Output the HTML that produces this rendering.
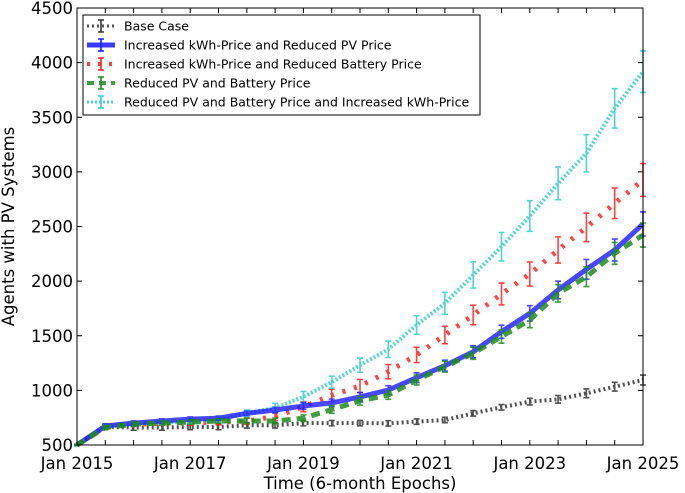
<!DOCTYPE html>
<html><head><meta charset="utf-8"><style>
body{margin:0;background:#fff;}
svg{display:block;font-family:"DejaVu Sans","Liberation Sans",sans-serif;}
</style></head><body>
<svg id="chart" width="685" height="493" viewBox="0 0 685 493"></svg>
<script>
const epochs = [0,1,2,3,4,5,6,7,8,9,10,11,12,13,14,15,16,17,18,19,20];
const xTickLabels = ["Jan 2015","Jan 2017","Jan 2019","Jan 2021","Jan 2023","Jan 2025"];
const xTickEpochs = [0,4,8,12,16,20];
const yTicks = [500,1000,1500,2000,2500,3000,3500,4000,4500];
const baseCase = [500,665,660,660,665,665,680,680,700,700,700,698,714,729,790,845,897,918,973,1034,1095];
const kwhPv = [500,674,700,720,737,745,790,820,857,885,940,1003,1116,1226,1354,1537,1705,1919,2108,2285,2523];
const kwhBattery = [500,670,690,700,705,710,720,760,850,955,1040,1171,1324,1507,1690,1882,2065,2285,2492,2712,2926];
const pvBattery = [500,660,690,700,710,720,720,720,745,825,905,958,1095,1217,1339,1492,1644,1888,2040,2254,2422];
const pvBatteryKwh = [500,670,695,705,715,730,790,840,940,1075,1230,1376,1598,1797,2056,2315,2596,2895,3170,3581,3917];
const errBase = [5,25,25,25,25,25,25,25,25,25,25,25,25,25,25,25,30,35,40,40,45];
const errKwhPv = [5,20,20,20,20,20,20,25,30,35,40,40,45,50,55,60,70,80,90,100,110];
const errKwhBattery = [5,20,20,20,25,25,30,35,45,55,60,65,70,80,90,100,110,120,130,140,150];
const errPvBattery = [5,20,20,20,20,20,25,25,30,35,40,40,45,50,55,60,70,80,90,100,110];
const errPvBatteryKwh = [5,20,20,20,25,25,30,40,50,55,65,75,85,100,120,130,140,150,170,180,190];

const L=77,R=643,T=8,B=445;
const xs=e=>L+(R-L)*e/20;
const ys=v=>B-(B-T)*(v-500)/4000;
const svg=document.getElementById('chart');
const NS='http://www.w3.org/2000/svg';
function mk(tag,attrs,parent){const el=document.createElementNS(NS,tag);for(const k in attrs)el.setAttribute(k,attrs[k]);(parent||svg).appendChild(el);return el;}

const series=[
 {name:'base-case',vals:baseCase,err:errBase,color:'#333',w:4,dash:'2,3',op:0.85},
 {name:'increased-kwh-reduced-battery',vals:kwhBattery,err:errKwhBattery,color:'#ff2020',w:5,dash:'3,9',op:0.85},
 {name:'reduced-pv-battery-increased-kwh',vals:pvBatteryKwh,err:errPvBatteryKwh,color:'#33cccc',w:4,dash:'2,2',op:0.85},
 {name:'increased-kwh-reduced-pv',vals:kwhPv,err:errKwhPv,color:'#1a1aff',w:5,dash:'',op:0.8},
 {name:'reduced-pv-battery',vals:pvBattery,err:errPvBattery,color:'#1e8c1e',w:5,dash:'9,6',op:0.85},
];
series.forEach(s=>{
  const g=mk('g',{opacity:s.op});
  
  
  const d=s.vals.map((v,i)=>(i?'L':'M')+xs(epochs[i]).toFixed(1)+','+ys(v).toFixed(1)).join(' ');
  const p=mk('path',{d:d,fill:'none',stroke:s.color,'stroke-width':s.w,'stroke-dasharray':s.dash},g);
  
  
  s.vals.forEach((v,i)=>{
    const x=xs(epochs[i]),y1=ys(v-s.err[i]),y2=ys(v+s.err[i]);
    const eb=mk('path',{d:`M${x},${y1} L${x},${y2} M${x-3},${y1} L${x+3},${y1} M${x-3},${y2} L${x+3},${y2}`,stroke:s.color,'stroke-width':1.6,fill:'none'},g);
    
    
  });
});

const fr=mk('rect',{x:L,y:T,width:R-L,height:B-T,fill:'none',stroke:'#000','stroke-width':1});


epochs.forEach(e=>{
  const x=xs(e);
  mk('line',{x1:x,x2:x,y1:B,y2:B-5,stroke:'#000'});
  mk('line',{x1:x,x2:x,y1:T,y2:T+5,stroke:'#000'});
});
xTickEpochs.forEach((e,i)=>{
  const t=mk('text',{x:xs(e),y:469,'text-anchor':'middle','font-size':16.5});
  t.textContent=xTickLabels[i];
  
  
});
yTicks.forEach(v=>{
  const y=ys(v);
  mk('line',{x1:L,x2:L+5,y1:y,y2:y,stroke:'#000'});
  mk('line',{x1:R,x2:R-5,y1:y,y2:y,stroke:'#000'});
  const t=mk('text',{x:L-4,y:y+6,'text-anchor':'end','font-size':16.5});
  t.textContent=v;
  
  
});
const xt=mk('text',{x:(L+R)/2,y:489,'text-anchor':'middle','font-size':16.5});
xt.textContent='Time (6-month Epochs)';


const yt=mk('text',{x:0,y:0,'text-anchor':'middle','font-size':16.5,transform:`translate(14,${(T+B)/2}) rotate(-90)`});
yt.textContent='Agents with PV Systems';



const lg=mk('g',{});


mk('rect',{x:83,y:15,width:397,height:100,fill:'#fff',stroke:'#000','stroke-width':1},lg);
const legendItems=[
 ['Base Case','#333',3,'2,3'],
 ['Increased kWh-Price and Reduced PV Price','#1a1aff',5,''],
 ['Increased kWh-Price and Reduced Battery Price','#ff2020',4,'3,8'],
 ['Reduced PV and Battery Price','#1e8c1e',4,'7,5'],
 ['Reduced PV and Battery Price and Increased kWh-Price','#33cccc',3,'2,2'],
];
legendItems.forEach((it,i)=>{
  const y=26+i*19;
  const e=mk('g',{},lg);
  
  
  mk('line',{x1:87,x2:115,y1:y,y2:y,stroke:it[1],'stroke-width':it[2],'stroke-dasharray':it[3],opacity:0.85},e);
  mk('path',{d:`M101,${y-6} L101,${y+6} M98,${y-6} L104,${y-6} M98,${y+6} L104,${y+6}`,stroke:it[1],'stroke-width':1.6,fill:'none'},e);
  const t=mk('text',{x:124,y:y+4.5,'font-size':12.5},e);
  t.textContent=it[0];
});
</script>
</body></html>
